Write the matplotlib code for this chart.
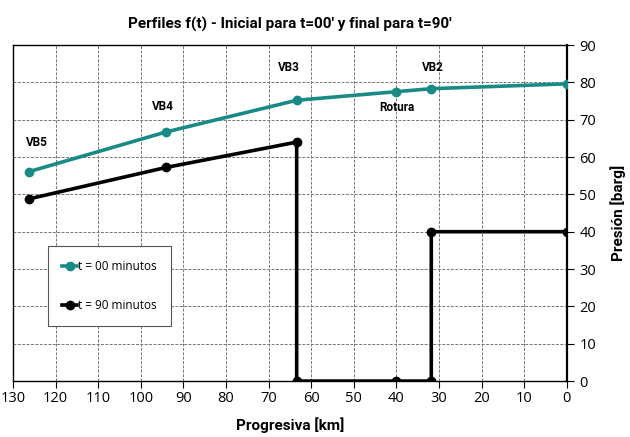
import matplotlib
matplotlib.use("Agg")
import matplotlib.pyplot as plt

# datos
km_t00 = [126.2, 94.1, 63.4, 40.0, 31.8, 0.0]
pres_t00 = [56.1, 66.7, 75.2, 77.5, 78.3, 79.6]

km_t90 = [126.2, 94.1, 63.4, 63.4, 40.0, 31.8, 31.8, 0.0]
pres_t90 = [48.8, 57.2, 64.0, 0.0, 0.0, 0.0, 40.0, 40.0]

etiquetas = ["VB5", "VB4", "VB3", "VB2", "Rotura"]
etiqueta_x = [124.4, 94.8, 65.3, 31.5, 39.9]
etiqueta_y = [63.8, 73.5, 83.9, 83.9, 73.2]

x_ticks = list(range(0, 140, 10))
y_ticks = list(range(0, 100, 10))

teal = "#1a8a84"

plt.rcParams["font.family"] = ["Open Sans", "DejaVu Sans"]

fig = plt.figure(figsize=(6.3, 4.37), dpi=100)
ax = fig.add_axes([0.0206, 0.128, 0.879, 0.769])

ax.plot(km_t00, pres_t00, color=teal, lw=2.6, marker="o", ms=6,
        label="t = 00 minutos", zorder=3)
ax.plot(km_t90, pres_t90, color="black", lw=2.6, marker="o", ms=6,
        label="t = 90 minutos", zorder=3)

for txt, x, y in zip(etiquetas, etiqueta_x, etiqueta_y):
    ax.text(x, y, txt, ha="center", va="center", fontsize=8.5,
            fontweight="bold", family="Roboto")

ax.set_xlim(130, 0)
ax.set_ylim(0, 90)
ax.set_xticks(x_ticks)
ax.set_yticks(y_ticks)
ax.yaxis.tick_right()
ax.yaxis.set_label_position("right")
ax.tick_params(direction="out", length=5, labelsize=10.5, colors="black")
ax.tick_params(axis="x", pad=2)
ax.tick_params(axis="y", pad=4)
ax.grid(True, color="#777777", ls=(0, (3, 1.5)), lw=0.7)

for side in ["left", "top", "bottom"]:
    ax.spines[side].set_linewidth(1.0)
ax.spines["right"].set_linewidth(1.6)

ax.set_title("Perfiles f(t) - Inicial para t=00' y final para t=90'",
             fontsize=11, fontweight="bold", family="Roboto", pad=12)
ax.set_xlabel("Progresiva [km]", fontsize=11, fontweight="bold",
              family="Roboto", labelpad=8)
ax.set_ylabel("Presión [barg]", fontsize=11, fontweight="bold",
              family="Roboto", labelpad=10)

leg = ax.legend(loc="lower left", bbox_to_anchor=(0.052, 0.145),
                fontsize=8.5, handlelength=1.3, handletextpad=0.1,
                labelspacing=2.2, borderpad=1.2, fancybox=False,
                framealpha=1, edgecolor="#555555")
leg.get_frame().set_linewidth(0.8)

fig.savefig("out.png", dpi=100)
